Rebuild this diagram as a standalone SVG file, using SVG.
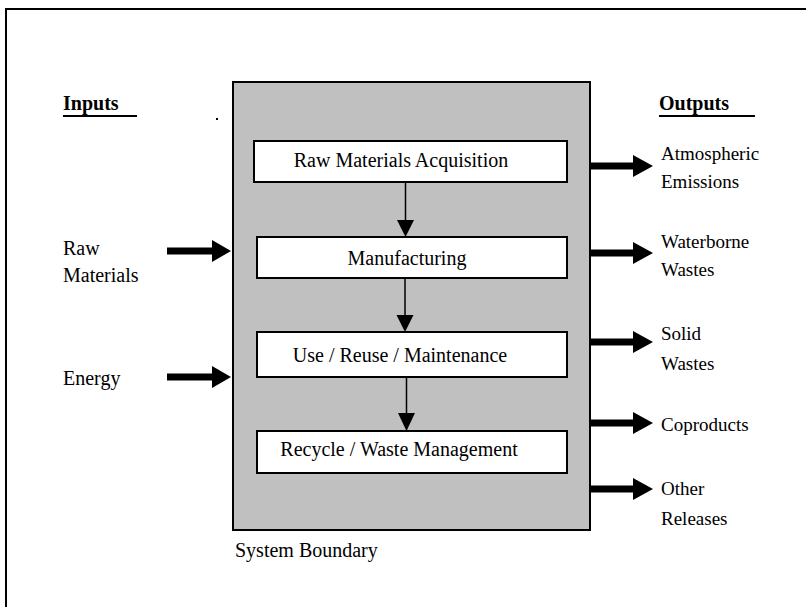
<svg xmlns="http://www.w3.org/2000/svg" width="806" height="607" viewBox="0 0 806 607">
<style>
text{font-family:"Liberation Serif","Times New Roman",serif;fill:#000}
.lbl{font-size:20px}
.out{font-size:19px}
.hd{font-size:20px;font-weight:bold}
.box{fill:#fff;stroke:#000;stroke-width:2}
.thin{stroke:#000;stroke-width:1.5;fill:none}
.thick{stroke:#000;stroke-width:7;fill:none}
.head{fill:#000}
</style>
<rect x="0" y="0" width="806" height="607" fill="#fff"/>
<rect x="6" y="9" width="820" height="620" fill="none" stroke="#000" stroke-width="2"/>
<g id="system-boundary">
<rect x="233" y="82" width="357" height="448" fill="#C0C0C0" stroke="#000" stroke-width="2"/>
<text class="lbl" x="235" y="557">System Boundary</text>
</g>
<g id="inputs-header">
<text class="hd" x="63" y="110">Inputs</text>
<line x1="63" y1="116" x2="137" y2="116" stroke="#000" stroke-width="2"/>
</g>
<g id="outputs-header">
<text class="hd" x="659" y="110">Outputs</text>
<line x1="659" y1="116" x2="755" y2="116" stroke="#000" stroke-width="2"/>
</g>
<rect x="216" y="118" width="2" height="2" fill="#000"/>
<g id="raw-materials">
<text class="lbl" x="63" y="255">Raw</text>
<text class="lbl" x="63" y="282">Materials</text>
</g>
<g id="energy">
<text class="lbl" x="63" y="385">Energy</text>
</g>
<g id="box-acquisition">
<rect class="box" x="254" y="141" width="313" height="41"/>
<text class="lbl" x="401" y="167" text-anchor="middle">Raw Materials Acquisition</text>
</g>
<g id="box-manufacturing">
<rect class="box" x="257" y="237" width="310" height="41"/>
<text class="lbl" x="407" y="265" text-anchor="middle">Manufacturing</text>
</g>
<g id="box-use">
<rect class="box" x="257" y="332" width="310" height="45"/>
<text class="lbl" x="400" y="362" text-anchor="middle">Use / Reuse / Maintenance</text>
</g>
<g id="box-recycle">
<rect class="box" x="257" y="431" width="310" height="42"/>
<text class="lbl" x="399" y="456" text-anchor="middle">Recycle / Waste Management</text>
</g>
<g id="out-atmospheric">
<text class="out" x="661" y="160">Atmospheric</text>
<text class="out" x="661" y="188">Emissions</text>
</g>
<g id="out-waterborne">
<text class="out" x="661" y="248">Waterborne</text>
<text class="out" x="661" y="276">Wastes</text>
</g>
<g id="out-solid">
<text class="out" x="661" y="340">Solid</text>
<text class="out" x="661" y="370">Wastes</text>
</g>
<g id="out-coproducts">
<text class="out" x="661" y="431">Coproducts</text>
</g>
<g id="out-other">
<text class="out" x="661" y="495">Other</text>
<text class="out" x="661" y="525">Releases</text>
</g>
<g id="connectors">
<line class="thin" x1="405.5" y1="182" x2="405.5" y2="222"/>
<polygon class="head" points="397,220 414,220 405.5,237"/>
<line class="thin" x1="405" y1="278" x2="405" y2="317"/>
<polygon class="head" points="396.5,315 413.5,315 405,332"/>
<line class="thin" x1="406.5" y1="377" x2="406.5" y2="415"/>
<polygon class="head" points="398,413 415,413 406.5,431"/>
<line class="thick" x1="167" y1="251" x2="214" y2="251"/>
<polygon class="head" points="212,240 231,251 212,262"/>
<line class="thick" x1="167" y1="377" x2="214" y2="377"/>
<polygon class="head" points="212,366 231,377 212,388"/>
<line class="thick" x1="591" y1="166" x2="635" y2="166"/>
<polygon class="head" points="633,155 653,166 633,177"/>
<line class="thick" x1="591" y1="253" x2="635" y2="253"/>
<polygon class="head" points="633,242 653,253 633,264"/>
<line class="thick" x1="591" y1="342" x2="635" y2="342"/>
<polygon class="head" points="633,331 653,342 633,353"/>
<line class="thick" x1="591" y1="423" x2="635" y2="423"/>
<polygon class="head" points="633,412 653,423 633,434"/>
<line class="thick" x1="591" y1="489" x2="635" y2="489"/>
<polygon class="head" points="633,478 653,489 633,500"/>
</g>
</svg>
